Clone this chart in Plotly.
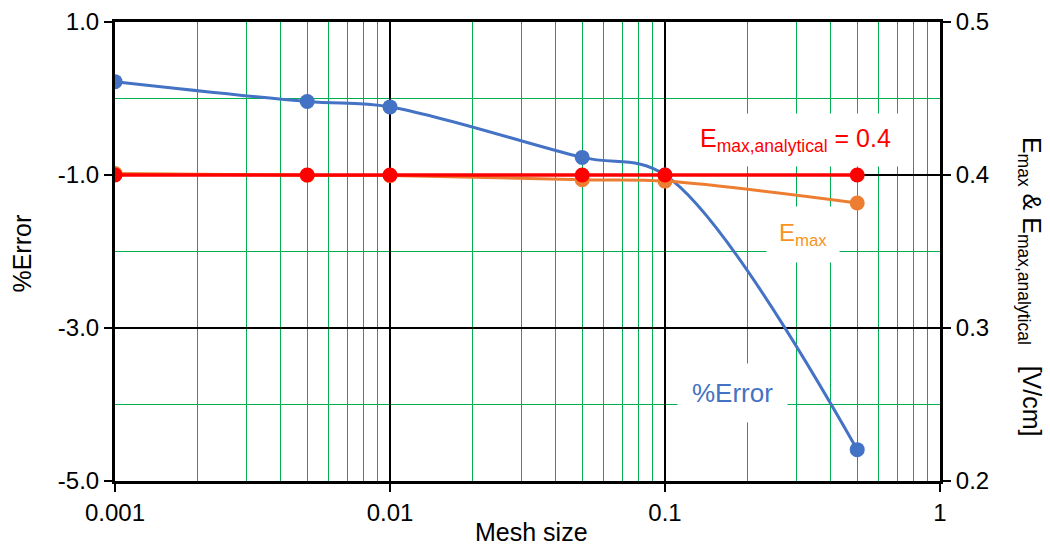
import plotly.graph_objects as go

# Mesh sizes and measured quantities
mesh_size = [0.001, 0.005, 0.01, 0.05, 0.1, 0.5]
pct_error = [0.22, -0.04, -0.11, -0.77, -1.0, -4.59]
e_max = [0.4009, 0.3998, 0.3996, 0.3969, 0.3960, 0.3817]
e_max_analytical = [0.4, 0.4, 0.4, 0.4, 0.4, 0.4]

x_ticks = [0.001, 0.01, 0.1, 1]
x_labels = ["0.001", "0.01", "0.1", "1"]
left_ticks = [-5.0, -3.0, -1.0, 1.0]
left_labels = ["-5.0", "-3.0", "-1.0", "1.0"]
right_ticks = [0.2, 0.3, 0.4, 0.5]
right_labels = ["0.2", "0.3", "0.4", "0.5"]

BLUE = "#4472C4"
ORANGE = "#ED7D31"
RED = "#FF0000"
GREEN = "#00B050"
FONT = "Liberation Sans, Arial, sans-serif"

fig = go.Figure()

fig.add_trace(go.Scatter(
    x=mesh_size, y=pct_error, mode="lines+markers", name="%Error",
    line=dict(color=BLUE, width=3, shape="spline", smoothing=1),
    marker=dict(color=BLUE, size=15), yaxis="y"))

fig.add_trace(go.Scatter(
    x=mesh_size, y=e_max, mode="lines+markers", name="Emax",
    line=dict(color=ORANGE, width=3, shape="spline", smoothing=1),
    marker=dict(color=ORANGE, size=15), yaxis="y2"))

fig.add_trace(go.Scatter(
    x=mesh_size, y=e_max_analytical, mode="lines+markers", name="Emax,analytical",
    line=dict(color=RED, width=3.5),
    marker=dict(color=RED, size=15), yaxis="y2"))

fig.update_layout(
    width=1050, height=549,
    margin=dict(l=115, r=110, t=22, b=68),
    paper_bgcolor="white", plot_bgcolor="white",
    showlegend=False,
    font=dict(family=FONT, size=24, color="black"),
    xaxis=dict(
        type="log", range=[-3, 0], automargin=False,
        tickvals=x_ticks, ticktext=x_labels,
        showgrid=True, gridcolor="black", gridwidth=1.5,
        minor=dict(showgrid=True, gridcolor=GREEN, gridwidth=1.2, dtick="D1",
                   ticks=""),
        showline=True, linecolor="black", linewidth=3, mirror=True,
        ticks="outside", ticklen=8, tickcolor="black", tickwidth=2,
        zeroline=False,
    ),
    yaxis=dict(
        range=[-5, 1], automargin=False,
        tickvals=left_ticks, ticktext=left_labels,
        showgrid=True, gridcolor="black", gridwidth=1.5,
        minor=dict(showgrid=True, gridcolor=GREEN, gridwidth=1.2, dtick=1, tick0=0,
                   ticks=""),
        showline=True, linecolor="black", linewidth=3, mirror=True,
        ticks="outside", ticklen=8, tickcolor="black", tickwidth=2,
        zeroline=False,
    ),
    yaxis2=dict(
        range=[0.2, 0.5], automargin=False,
        tickvals=right_ticks, ticktext=right_labels,
        overlaying="y", side="right", showgrid=False, zeroline=False,
        showline=True, linecolor="black", linewidth=3,
        ticks="outside", ticklen=8, tickcolor="black", tickwidth=2,
    ),
)

# Axis titles
fig.add_annotation(
    xref="paper", yref="paper", x=0.505, y=-0.112, xanchor="center", yanchor="middle",
    text="Mesh size", showarrow=False, font=dict(size=25, color="black"))
fig.add_annotation(
    xref="paper", yref="paper", x=-0.113, y=0.495, xanchor="center", yanchor="middle",
    text="%Error", textangle=-90, showarrow=False, font=dict(size=25, color="black"))
fig.add_annotation(
    xref="paper", yref="paper", x=1.109, y=0.423, xanchor="center", yanchor="middle",
    text="E<sub>max</sub> & E<sub>max,analytical</sub>&nbsp;&nbsp;&nbsp;[V/cm]",
    textangle=90, showarrow=False, font=dict(size=25, color="black"))

# Series labels on white boxes
fig.add_annotation(
    xref="x", yref="y", x=-0.527, y=-0.54,
    text="E<sub>max,analytical</sub> = 0.4", showarrow=False,
    bgcolor="white", borderpad=10, font=dict(size=25, color=RED))
fig.add_annotation(
    xref="x", yref="y", x=-0.498, y=-1.78,
    text="E<sub>max</sub>", showarrow=False,
    bgcolor="white", borderpad=12, font=dict(size=24, color="#F7941D"))
fig.add_annotation(
    xref="x", yref="y", x=-0.753, y=-3.85,
    text="%Error", showarrow=False,
    bgcolor="white", borderpad=14, font=dict(size=26, color=BLUE))

fig.write_html("out.html")
